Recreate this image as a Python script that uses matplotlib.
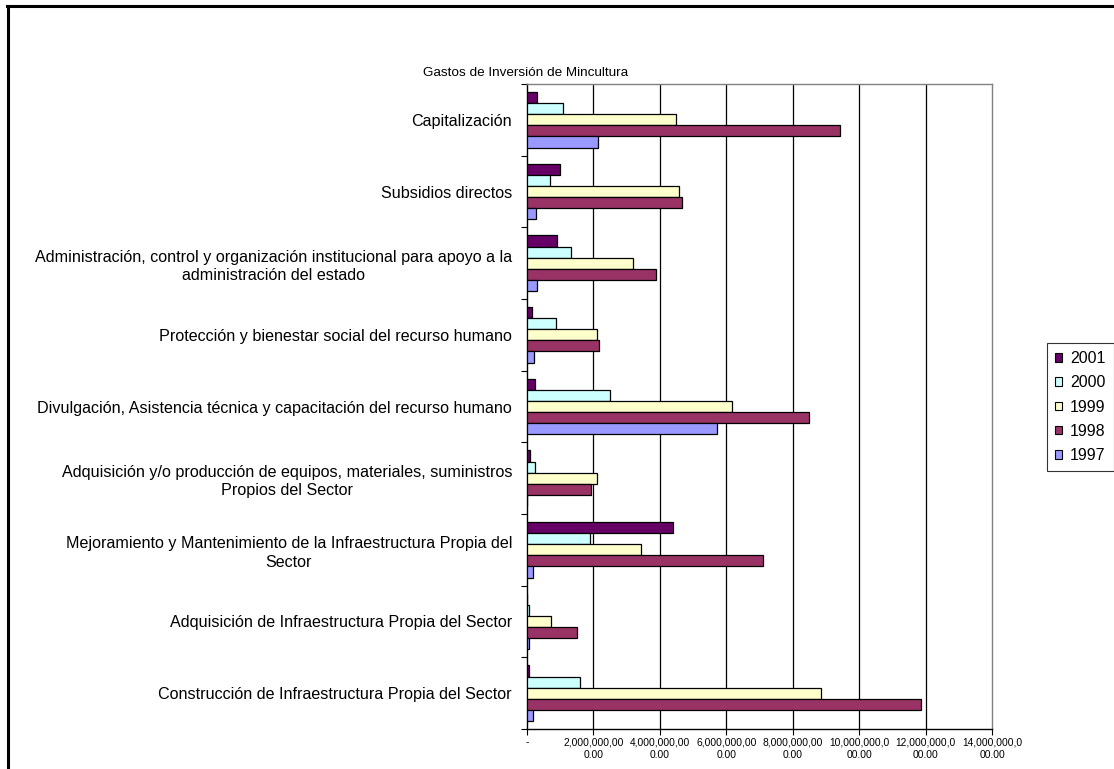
import matplotlib
matplotlib.use("Agg")
import matplotlib.pyplot as plt
from matplotlib.lines import Line2D
from matplotlib.patches import Patch
import numpy as np

plt.rcParams['font.family'] = ['Liberation Sans', 'DejaVu Sans']

title = "Gastos de Inversión de Mincultura"
categories = [
    "Capitalización",
    "Subsidios directos",
    "Administración, control y organización institucional para apoyo a la\nadministración del estado",
    "Protección y bienestar social del recurso humano",
    "Divulgación, Asistencia técnica y capacitación del recurso humano",
    "Adquisición y/o producción de equipos, materiales, suministros\nPropios del Sector",
    "Mejoramiento y Mantenimiento de la Infraestructura Propia del\nSector",
    "Adquisición de Infraestructura Propia del Sector",
    "Construcción de Infraestructura Propia del Sector",
]
series_names = ["2001", "2000", "1999", "1998", "1997"]
v2001 = [0.30e9, 1.00e9, 0.90e9, 0.15e9, 0.24e9, 0.10e9, 4.41e9, 0.00e9, 0.06e9]
v2000 = [1.08e9, 0.69e9, 1.31e9, 0.87e9, 2.49e9, 0.23e9, 1.90e9, 0.05e9, 1.59e9]
v1999 = [4.48e9, 4.59e9, 3.18e9, 2.10e9, 6.18e9, 2.12e9, 3.42e9, 0.73e9, 8.85e9]
v1998 = [9.42e9, 4.68e9, 3.88e9, 2.17e9, 8.49e9, 1.93e9, 7.12e9, 1.51e9, 11.86e9]
v1997 = [2.14e9, 0.28e9, 0.29e9, 0.20e9, 5.72e9, 0.00e9, 0.17e9, 0.05e9, 0.17e9]
series_values = [v2001, v2000, v1999, v1998, v1997]
colors = ["#660066", "#CCFFFF", "#FFFFCC", "#993366", "#9999FF"]
xticks = [0, 2e9, 4e9, 6e9, 8e9, 10e9, 12e9, 14e9]
xticklabels = ["-", "2,000,000,00\n0.00", "4,000,000,00\n0.00", "6,000,000,00\n0.00",
               "8,000,000,00\n0.00", "10,000,000,0\n00.00", "12,000,000,0\n00.00",
               "14,000,000,0\n00.00"]

W, H = 1114, 769
fig = plt.figure(figsize=(W / 100, H / 100), dpi=100)

def fx(p):
    return p / W

def fy(p):
    return 1 - p / H

# outer frame
fig.add_artist(Line2D([fx(8), fx(8)], [fy(6), fy(H + 5)], color='black', lw=2.2, transform=fig.transFigure))
fig.add_artist(Line2D([fx(7), fx(W + 5)], [fy(6), fy(6)], color='black', lw=2.2, transform=fig.transFigure))

left, right, top, bottom = 527, 992, 84, 729
ax = fig.add_axes([fx(left), fy(bottom), fx(right - left), (bottom - top) / H])

n = len(categories)
y = np.arange(n)
h = 0.155
for j, (vals, col, name) in enumerate(zip(series_values, colors, series_names)):
    ax.barh(y + (j - 2) * h, vals, height=h, color=col, edgecolor='black', linewidth=0.9, zorder=3, label=name)

ax.set_xlim(xticks[0], xticks[-1])
ax.set_ylim(n - 0.5, -0.5)
ax.set_xticks(xticks)
ax.set_xticklabels(xticklabels, fontsize=7.4, linespacing=1.3)
ax.tick_params(axis='x', length=4, width=0.8, color='black', pad=2)
ax.vlines(xticks[1:-1], -0.5, n - 0.5, colors='black', linewidth=0.9, zorder=1)

ax.set_yticks(y)
ax.set_yticklabels(categories, fontsize=11.6, multialignment='center', linespacing=1.3)
ax.tick_params(axis='y', which='major', length=0, pad=10.8)
ax.set_yticks(np.arange(n + 1) - 0.5, minor=True)
ax.tick_params(axis='y', which='minor', length=4, width=0.8, color='black')

for s in ['top', 'right']:
    ax.spines[s].set_color('#808080')
    ax.spines[s].set_linewidth(1.0)
for s in ['left', 'bottom']:
    ax.spines[s].set_color('black')
    ax.spines[s].set_linewidth(1.0)

fig.text(fx(526), fy(73), title, ha='center', va='center', fontsize=9.7)

handles = [Patch(facecolor=c, edgecolor='black', linewidth=0.8) for c in colors]
leg = fig.legend(handles, series_names, loc='upper left',
                 bbox_to_anchor=(fx(1047), fy(343)), fontsize=11.5,
                 frameon=True, fancybox=False, edgecolor='black',
                 handlelength=0.45, handleheight=0.45, handletextpad=0.5,
                 labelspacing=0.58, borderpad=0.5, borderaxespad=0)
leg.get_frame().set_linewidth(0.8)

fig.savefig("out.png", dpi=100)
